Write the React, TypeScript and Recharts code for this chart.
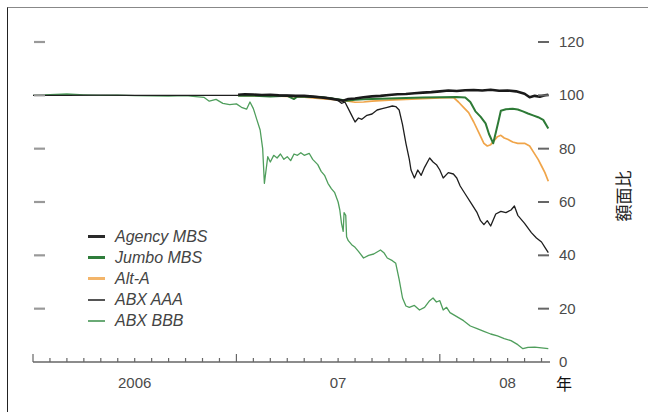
import { LineChart, Line, XAxis, YAxis } from "recharts";

// x = months since Jan 2006, y = price (% of par)
const MONTHS = [0, 1, 2, 3, 4, 5, 6, 7, 8, 9, 10, 11, 12, 13, 14, 15, 16, 17, 18, 19, 20, 21, 22, 23, 24, 25, 26, 27, 28, 29, 30];
const YEAR_LABELS: Record<number, string> = { 6: "2006", 18: "07", 28: "08" };
const Y_TICKS = [0, 20, 40, 60, 80, 100, 120];

const AGENCY_MBS: [number, number][] = [
  [12.1, 100.2], [12.5, 100.4], [13, 100.3], [13.5, 100.1], [14, 100.2], [14.5, 100], [15, 99.9],
  [15.5, 99.8], [16, 99.8], [16.5, 99.5], [17, 99.2], [17.5, 98.8], [18, 98.3], [18.3, 98],
  [18.6, 98.6], [19, 98.8], [19.5, 99.3], [20, 99.6], [20.5, 99.8], [21, 100.1], [21.5, 100.4],
  [22, 100.5], [22.5, 100.8], [23, 101], [23.5, 101.2], [24, 101.5], [24.5, 101.8], [25, 101.6],
  [25.5, 101.9], [26, 102], [26.5, 101.8], [27, 102.1], [27.5, 101.7], [28, 101.8], [28.5, 101.5],
  [29, 100.6], [29.3, 99.3], [29.6, 99.8], [29.9, 99.5], [30.2, 100], [30.4, 100.2],
];

const JUMBO_MBS: [number, number][] = [
  [12.1, 99.8], [13, 99.9], [14, 99.6], [15, 99.8], [15.4, 98.6], [15.6, 99.6], [16, 99.5],
  [17, 99.3], [17.6, 98.8], [18, 98.5], [18.5, 98], [19, 98.3], [19.5, 98.5], [20, 98.6],
  [21, 98.8], [22, 99], [23, 99.2], [24, 99.3], [25, 99.4], [25.5, 99.2], [25.8, 97.5],
  [26.1, 94], [26.4, 92], [26.7, 89.5], [26.9, 85.5], [27.15, 82], [27.3, 86], [27.45, 90],
  [27.6, 94.2], [27.9, 94.8], [28.3, 95], [28.6, 94.7], [28.9, 94], [29.2, 93.2], [29.5, 92.5],
  [29.8, 91.8], [30.1, 90.8], [30.4, 87.6],
];

const ALT_A: [number, number][] = [
  [12.1, 100], [13, 99.9], [14, 99.8], [15, 99.6], [16, 99.3], [17, 98.8], [18, 98.3],
  [18.6, 97.8], [19, 97.4], [19.5, 97.5], [20, 97.8], [20.5, 98], [21, 98.2], [22, 98.5],
  [23, 98.8], [24, 99], [24.5, 99.1], [24.8, 99.2], [25.1, 97.5], [25.4, 95.5], [25.7, 93.5],
  [26, 90], [26.3, 86], [26.6, 82], [26.8, 81], [27, 81.5], [27.2, 83], [27.4, 84.5],
  [27.6, 85], [27.8, 84], [28, 83.5], [28.3, 82.5], [28.6, 82], [29, 82], [29.3, 81],
  [29.5, 79], [29.8, 76], [30, 73.5], [30.2, 71], [30.4, 67.8],
];

const ABX_AAA: [number, number][] = [
  [0, 100], [2, 100], [4, 100.1], [6, 100], [8, 100], [10, 100], [12, 100], [13, 100],
  [14, 100.2], [15, 100], [16, 99.8], [17, 99.5], [17.6, 99], [17.9, 98.5], [18.2, 97],
  [18.4, 97.5], [18.6, 95], [18.8, 92.5], [19, 90], [19.2, 91.5], [19.4, 91], [19.7, 92.5],
  [20, 93], [20.3, 94.5], [20.6, 95], [20.9, 95.5], [21.2, 96], [21.4, 95.8], [21.6, 94.5],
  [21.8, 89], [22, 82], [22.2, 76], [22.3, 72], [22.5, 69], [22.7, 72], [22.9, 70],
  [23.1, 73], [23.4, 76.5], [23.6, 75], [23.8, 74], [24, 72], [24.2, 69], [24.5, 71],
  [24.8, 70.5], [25, 69], [25.2, 66], [25.5, 63], [25.9, 59], [26.2, 56], [26.4, 53],
  [26.6, 51.5], [26.8, 53], [27, 51], [27.3, 55.5], [27.6, 56.5], [27.9, 56], [28.2, 57],
  [28.4, 58.5], [28.6, 55], [29, 52], [29.4, 48.5], [29.7, 46.5], [30, 45], [30.2, 43], [30.4, 41],
];

const ABX_BBB: [number, number][] = [
  [0, 100], [1, 100.3], [2, 100.5], [3, 100.2], [4, 100], [5, 100.1], [6, 99.9], [7, 99.8],
  [8, 99.7], [9, 99.9], [9.6, 99.5], [10.1, 99.2], [10.4, 97.8], [10.8, 98.5], [11.2, 97],
  [11.6, 96.5], [12, 96.8], [12.3, 95.5], [12.6, 94.8], [12.8, 97.5], [13, 95], [13.2, 91],
  [13.4, 87], [13.55, 80], [13.65, 67], [13.75, 72], [13.85, 77], [14, 75], [14.2, 77.5],
  [14.4, 76.5], [14.6, 78], [14.8, 76], [15, 77], [15.2, 75.5], [15.4, 78], [15.6, 77.5],
  [15.8, 78.5], [16, 77.5], [16.3, 78.2], [16.5, 76], [16.8, 74], [17, 71.5], [17.2, 70],
  [17.4, 67], [17.6, 65], [17.8, 63.5], [18, 60], [18.1, 57], [18.2, 52], [18.3, 49],
  [18.35, 56], [18.45, 55], [18.5, 47], [18.6, 45.5], [18.8, 44], [19, 43], [19.2, 41.5],
  [19.5, 39], [19.8, 40], [20.1, 40.5], [20.5, 42], [20.7, 41], [20.9, 39], [21.2, 38],
  [21.4, 37], [21.6, 31], [21.8, 24], [22, 21], [22.2, 20.5], [22.5, 21.2], [22.8, 19.5],
  [23.1, 20.5], [23.4, 23], [23.6, 24], [23.8, 22.5], [24, 23], [24.2, 19.5], [24.4, 20.5],
  [24.6, 18.5], [25, 17], [25.4, 15.5], [25.8, 13.5], [26.2, 12.5], [26.6, 11.5], [27, 10.5],
  [27.4, 9.8], [27.8, 8.8], [28.2, 8], [28.6, 6.5], [28.9, 5], [29.2, 5.5], [29.6, 5.6],
  [30, 5.3], [30.4, 5],
];

const toPoints = (rows: [number, number][]) => rows.map(([m, v]) => ({ m, v }));

// drawing order: bottom to top
const SERIES = [
  { name: "ABX BBB", data: ABX_BBB, color: "#4f9e5c", width: 1.3, axis: "left" },
  { name: "ABX AAA", data: ABX_AAA, color: "#1e1e1e", width: 1.3, axis: "right" },
  { name: "Alt-A", data: ALT_A, color: "#f0a54a", width: 1.7, axis: "right" },
  { name: "Jumbo MBS", data: JUMBO_MBS, color: "#2d7a36", width: 2, axis: "right" },
  { name: "Agency MBS", data: AGENCY_MBS, color: "#1a1a1a", width: 2.6, axis: "right" },
];

const LEGEND = [
  { name: "Agency MBS", color: "#2a2a2a", width: 3 },
  { name: "Jumbo MBS", color: "#2f7d3b", width: 2.6 },
  { name: "Alt-A", color: "#f3b56a", width: 2.6 },
  { name: "ABX AAA", color: "#555", width: 2 },
  { name: "ABX BBB", color: "#6aaa76", width: 2 },
];

const FONT = "'Liberation Sans', Arial, sans-serif";

function XTick(props: any) {
  const { x, payload } = props;
  const m = payload.value;
  const major = m % 12 === 0;
  const label = YEAR_LABELS[m];
  return (
    <g>
      <line x1={x} x2={x} y1={362} y2={362 - (major ? 8 : 4)} stroke="#666" strokeWidth={1.2} />
      {label && (
        <text x={x} y={388} textAnchor="middle" fontSize={15} fill="#4a4a4a" fontFamily={FONT}>
          {label}
        </text>
      )}
    </g>
  );
}

function LeftTick(props: any) {
  const { y, payload } = props;
  if (payload.value === 0) return <g />;
  return <line x1={34} x2={45} y1={y} y2={y} stroke="#999" strokeWidth={2.2} />;
}

function RightTick(props: any) {
  const { y, payload } = props;
  return (
    <g>
      {payload.value !== 0 && <line x1={538} x2={549} y1={y} y2={y} stroke="#666" strokeWidth={2} />}
      <text x={559} y={y + 5} fontSize={15} fill="#4a4a4a" fontFamily={FONT}>
        {payload.value}
      </text>
    </g>
  );
}

export default function App() {
  return (
    <div style={{ position: "absolute", left: 0, top: 0, width: 648, height: 412, background: "#fff" }}>
      <div
        style={{
          position: "absolute", left: 7, top: 7, right: 0, bottom: 0,
          borderTop: "1.5px solid #888", borderLeft: "1.5px solid #222",
        }}
      />
      <div style={{ position: "absolute", left: 0, top: 0 }}>
        <LineChart width={648} height={412} margin={{ top: 42, right: 88, bottom: 40, left: 23 }}>
          <XAxis
            dataKey="m" type="number" domain={[0, 30.5]} ticks={MONTHS} interval={0}
            height={10} tickSize={0} tickMargin={0} tickLine={false}
            axisLine={{ stroke: "#666", strokeWidth: 1.5 }} tick={<XTick />}
            allowDataOverflow
          />
          <YAxis yAxisId="left" orientation="left" width={10} domain={[0, 120]} ticks={Y_TICKS}
            axisLine={false} tickLine={false} tick={<LeftTick />} interval={0} />
          <YAxis yAxisId="right" orientation="right" width={10} domain={[0, 120]} ticks={Y_TICKS}
            axisLine={false} tickLine={false} tick={<RightTick />} interval={0} />
          {SERIES.map((s) => (
            <Line
              key={s.name} yAxisId={s.axis} data={toPoints(s.data)} dataKey="v" name={s.name}
              type="linear" stroke={s.color} strokeWidth={s.width} dot={false}
              strokeLinejoin="round" isAnimationActive={false}
            />
          ))}
        </LineChart>
      </div>
      <div style={{ position: "absolute", left: 0, top: 0 }}>
        {LEGEND.map((item, i) => (
          <div key={item.name} style={{ position: "absolute", left: 0, top: 226 + i * 21, height: 21, width: 260 }}>
            <div
              style={{
                position: "absolute", left: 88, width: 17, top: 10.5 - item.width / 2,
                height: item.width, background: item.color,
              }}
            />
            <div
              style={{
                position: "absolute", left: 115, top: 1, lineHeight: "20px", fontSize: 16,
                fontStyle: "italic", color: "#444", fontFamily: FONT, whiteSpace: "nowrap",
              }}
            >
              {item.name}
            </div>
          </div>
        ))}
      </div>
      <div
        style={{
          position: "absolute", left: 556, top: 375, fontSize: 16, lineHeight: 1,
          color: "#111", fontFamily: "'Noto Sans CJK JP', sans-serif",
        }}
      >
        年
      </div>
      <div
        style={{
          position: "absolute", left: 593, top: 186, width: 60, height: 20, lineHeight: "20px",
          textAlign: "center", fontSize: 17, color: "#222", transform: "rotate(-90deg)",
          fontFamily: "'Noto Sans CJK JP', sans-serif",
        }}
      >
        額面比
      </div>
    </div>
  );
}
